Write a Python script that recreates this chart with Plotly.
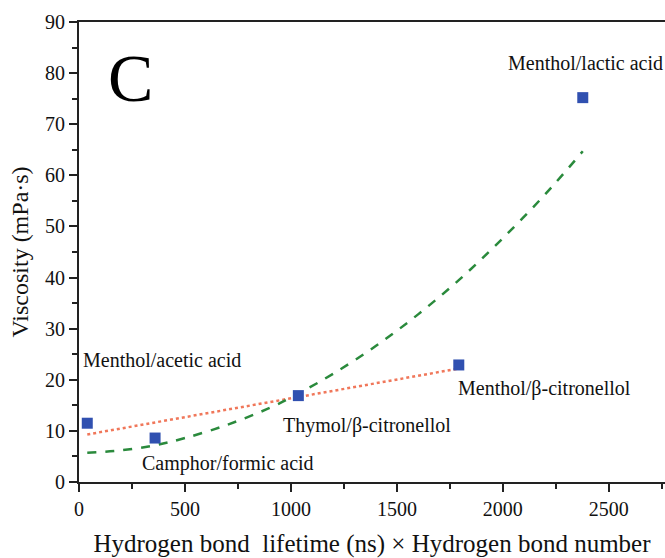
import plotly.graph_objects as go

# Data points
names = ["Menthol/acetic acid", "Camphor/formic acid", "Thymol/β-citronellol",
         "Menthol/β-citronellol", "Menthol/lactic acid"]
hb_x = [39, 359, 1035, 1792, 2377]
visc_y = [11.5, 8.6, 16.9, 22.9, 75.2]

# Green dashed fit curve
fit_x = [39, 200, 359, 500, 700, 900, 1035, 1200, 1400, 1600, 1800, 2000, 2200, 2377]
fit_y = [5.7, 6.2, 7.2, 8.6, 11.2, 14.5, 17.3, 21.2, 26.6, 32.8, 39.8, 47.7, 56.3, 64.7]

# Orange dotted line
lin_x = [39, 1792]
lin_y = [9.3, 22.2]

FONT = "Liberation Serif"

fig = go.Figure()
fig.add_trace(go.Scatter(x=lin_x, y=lin_y, mode="lines",
                         line=dict(color="#f0775a", width=2.5, dash="dot"),
                         showlegend=False, hoverinfo="skip"))
fig.add_trace(go.Scatter(x=fit_x, y=fit_y, mode="lines", line_shape="spline",
                         line=dict(color="#2a8a3c", width=2.5, dash="dash"),
                         showlegend=False, hoverinfo="skip"))
fig.add_trace(go.Scatter(x=hb_x, y=visc_y, mode="markers",
                         marker=dict(symbol="square", size=11, color="#3050b0"),
                         showlegend=False, text=names))

annots = [
    (names[4], 2388, 81.9),
    (names[0], 392, 23.9),
    (names[1], 705, 3.7),
    (names[2], 1361, 11.1),
    (names[3], 2197, 18.3),
]
for t, ax_, ay_ in annots:
    fig.add_annotation(x=ax_, y=ay_, text=t, showarrow=False,
                       font=dict(family=FONT, size=20, color="#111"))
fig.add_annotation(x=241, y=79, text="C", showarrow=False,
                   font=dict(family=FONT, size=68, color="black"))

fig.update_layout(
    width=665, height=558,
    margin=dict(l=79, r=0, t=22, b=73),
    paper_bgcolor="white", plot_bgcolor="white",
    font=dict(family=FONT, color="#111"),
    xaxis=dict(range=[0, 2765], tickvals=[0, 500, 1000, 1500, 2000, 2500],
               showgrid=False, zeroline=False, showline=True, linecolor="#222",
               linewidth=2, mirror=True, ticks="outside", ticklen=8, tickwidth=2,
               tickcolor="#222", tickfont=dict(size=20),
               minor=dict(dtick=250, ticks="outside", ticklen=5, tickwidth=2, tickcolor="#222"),
               title=dict(text="Hydrogen bond  lifetime (ns) × Hydrogen bond number",
                          font=dict(size=25), standoff=20)),
    yaxis=dict(range=[0, 90], dtick=10, showgrid=False, zeroline=False, showline=True,
               linecolor="#222", linewidth=2, mirror=False, ticks="outside", ticklen=8,
               tickwidth=2, tickcolor="#222", tickfont=dict(size=20),
               minor=dict(dtick=5, ticks="outside", ticklen=5, tickwidth=2, tickcolor="#222"),
               title=dict(text="Viscosity (mPa·s)", font=dict(size=24), standoff=10)),
)

fig.write_html("out.html")
